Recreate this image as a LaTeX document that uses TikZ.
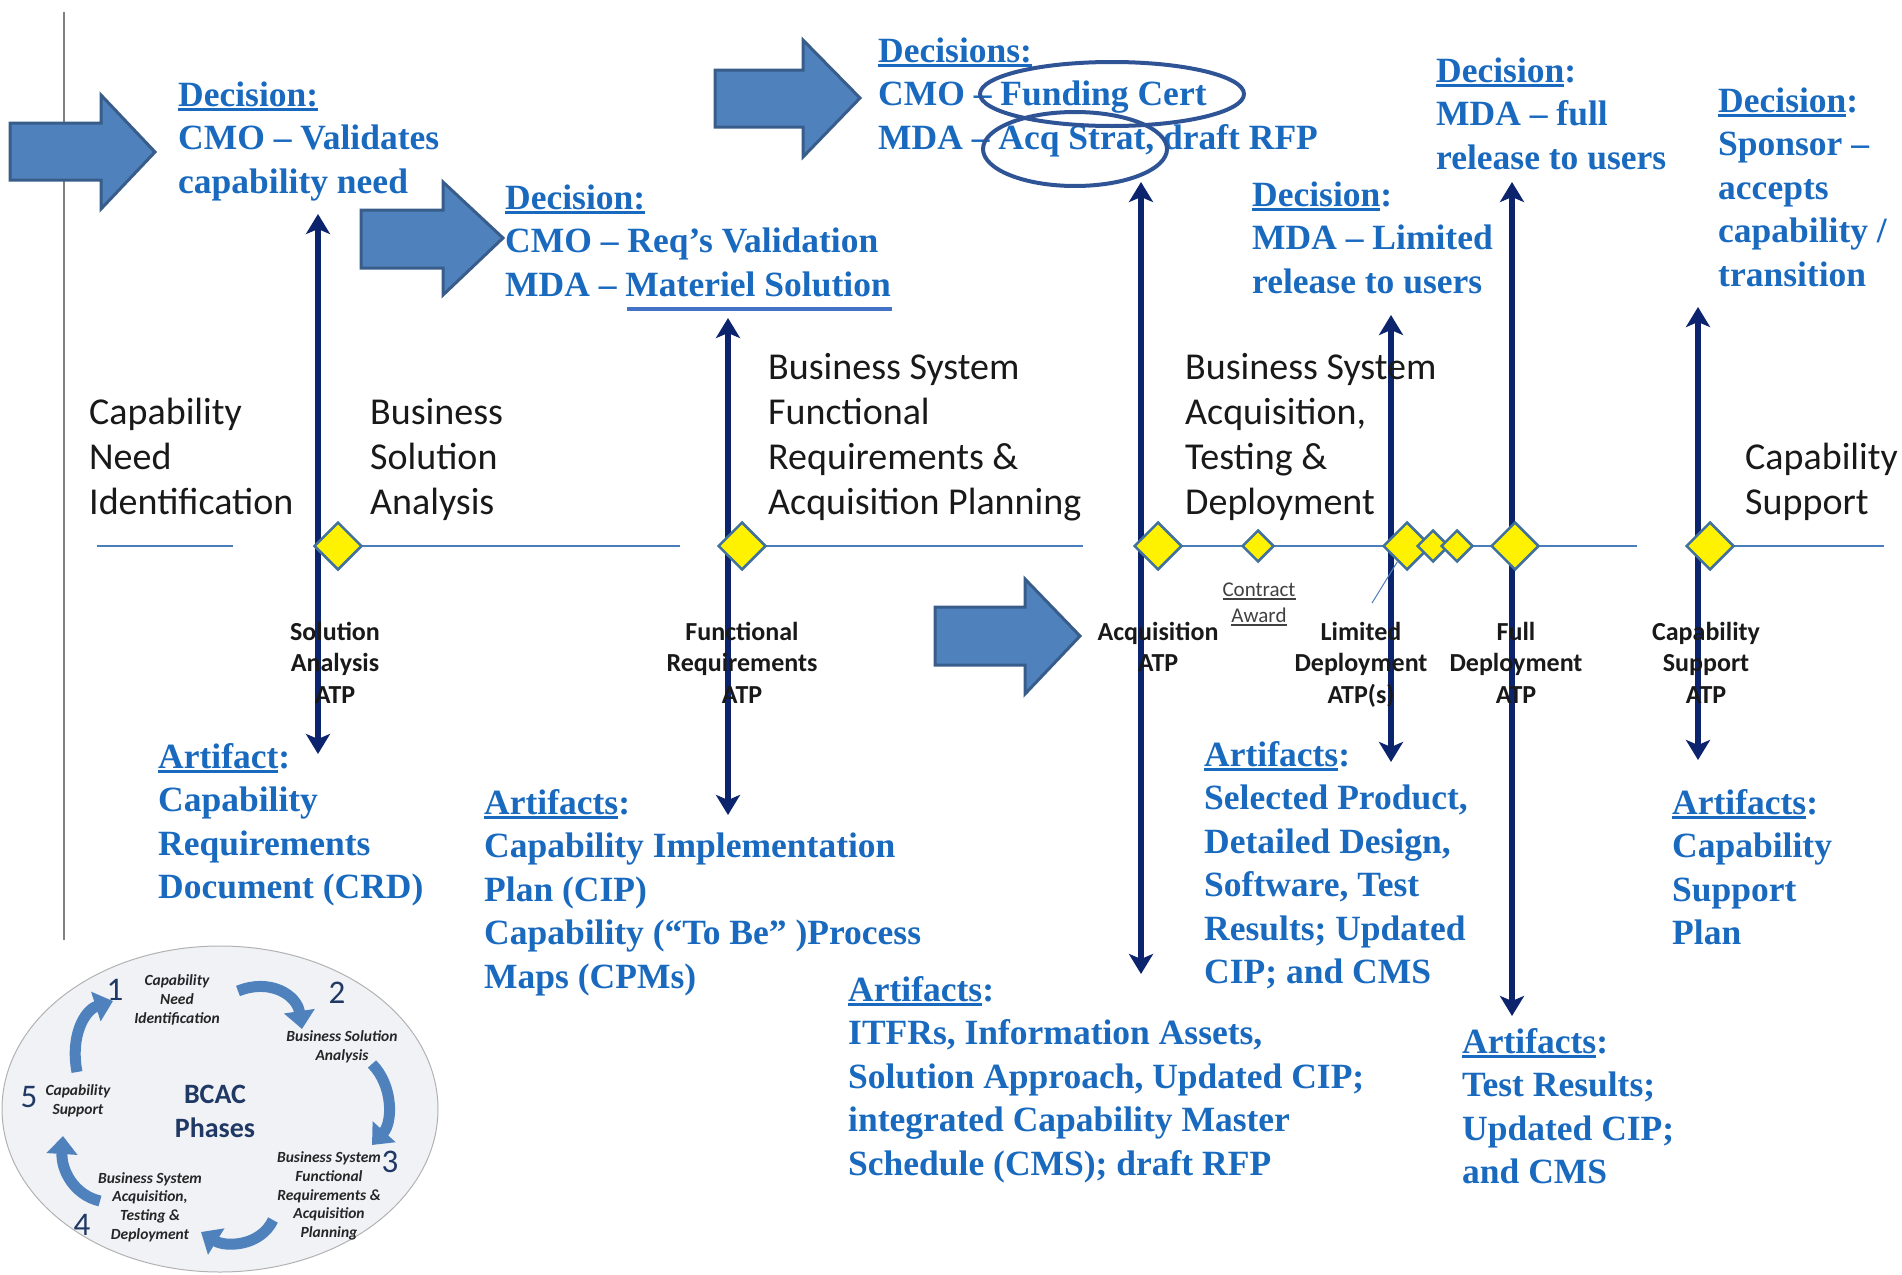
\documentclass[tikz,border=0pt]{standalone}
\usepackage{fontspec}
\setmainfont{Liberation Serif}
\newfontfamily\carl{Carlito}
\usetikzlibrary{arrows.meta,shapes.geometric}
\definecolor{txtblue}{RGB}{25,105,190}
\definecolor{navy}{RGB}{12,35,110}
\definecolor{arrfill}{RGB}{79,129,189}
\definecolor{arrdraw}{RGB}{56,93,138}
\definecolor{ellblue}{RGB}{47,84,150}
\definecolor{tline}{RGB}{74,126,187}
\definecolor{dmdraw}{RGB}{65,113,156}
\definecolor{insetbg}{RGB}{240,242,246}
\definecolor{insettxt}{RGB}{38,38,38}
\definecolor{insetnum}{RGB}{31,56,100}
\definecolor{ulblue}{RGB}{68,114,196}
\newsavebox\ulbox
\newcommand{\ulw}[1]{\sbox\ulbox{#1}\rlap{\rule[-4.5pt]{\wd\ulbox}{2.2pt}}\usebox\ulbox}
\newcommand{\ulthin}[1]{\sbox\ulbox{#1}\rlap{\rule[-3.5pt]{\wd\ulbox}{1.3pt}}\usebox\ulbox}
\tikzset{
  bluetxt/.style={text=txtblue, font=\bfseries\fontsize{35.5}{43.5}\selectfont, align=left, anchor=base west, inner sep=0pt},
  phase/.style={font=\carl\fontsize{38}{44.8}\selectfont, align=left, anchor=base west, inner sep=0pt, text=black!90},
  atp/.style={font=\carl\bfseries\fontsize{26}{31.5}\selectfont, align=center, anchor=base, inner sep=0pt, text=black!90},
  milestone/.style={diamond, draw=dmdraw, line width=2.5pt, fill=yellow, minimum width=48pt, minimum height=48pt, inner sep=0pt},
  smallms/.style={milestone, minimum width=32pt, minimum height=32pt},
  vline/.style={draw=navy, line width=6.5pt, {Stealth[length=20pt,width=24pt,inset=5pt]}-{Stealth[length=20pt,width=24pt,inset=5pt]}},
  blockarrow/.style={fill=arrfill, draw=arrdraw, line width=3pt, line join=miter},
  timeline/.style={draw=tline, line width=2pt},
  hilite/.style={draw=ellblue, line width=4pt},
  insettext/.style={font=\carl\bfseries\itshape\fontsize{15.5}{18.7}\selectfont, text=insettxt, align=center, inner sep=0pt},
  insetnumber/.style={font=\carl\fontsize{33}{36}\selectfont, text=insetnum, inner sep=0pt},
  curvarrow/.style={draw=arrfill, line width=11pt, -{Triangle[length=18pt,width=30pt]}},
}
\begin{document}
\begin{tikzpicture}[x=1pt,y=-1pt]
\useasboundingbox (0,0) rectangle (1902,1274);

% left gray rule
\draw[gray, line width=1.5pt] (64,12) -- (64,940);

% inset
\draw[fill=insetbg, draw=gray!60, line width=1pt] (220,1109) ellipse [x radius=218pt, y radius=163pt];
\coordinate (c5a) at (77,1072);   \coordinate (c5b) at (113,1001);
\coordinate (c1a) at (238,991);   \coordinate (c1b) at (302,1029);
\coordinate (c2a) at (372,1064);  \coordinate (c2b) at (372,1145);
\coordinate (c3a) at (273,1220);  \coordinate (c3b) at (201,1232);
\coordinate (c4a) at (100,1201);  \coordinate (c4b) at (63,1136);
\draw[curvarrow] (c5a) .. controls (70,1035) and (85,1010) .. (c5b);
\draw[curvarrow] (c1a) .. controls (270,978) and (297,995) .. (c1b);
\draw[curvarrow] (c2a) .. controls (393,1085) and (393,1122) .. (c2b);
\draw[curvarrow] (c3a) .. controls (260,1247) and (225,1247) .. (c3b);
\draw[curvarrow] (c4a) .. controls (74,1195) and (61,1170) .. (c4b);
\node[insettext] (i1) at (177,1000) {Capability\\Need\\Identification};
\node[insettext] (i2) at (342,1047) {Business Solution\\Analysis};
\node[insettext] (i3) at (329,1196) {Business System\\Functional\\Requirements \&\\Acquisition\\Planning};
\node[insettext] (i4) at (150,1207) {Business System\\Acquisition,\\Testing \&\\Deployment};
\node[insettext] (i5) at (78,1101) {Capability\\Support};
\node[font=\carl\bfseries\fontsize{28}{34}\selectfont, text=insetnum, align=center, inner sep=0pt] (bcac) at (215,1111) {BCAC\\Phases};
\node[insetnumber] (n1) at (115,990) {1};
\node[insetnumber] (n2) at (337,993) {2};
\node[insetnumber] (n3) at (390,1162) {3};
\node[insetnumber] (n4) at (82,1225) {4};
\node[insetnumber] (n5) at (29,1097) {5};

% block arrows
\draw[blockarrow] (10,123) -- (101,123) -- (101,95) -- (155,152) -- (101,209) -- (101,180) -- (10,180) -- cycle;
\draw[blockarrow] (361,210) -- (443,210) -- (443,182) -- (503,238) -- (443,295) -- (443,268) -- (361,268) -- cycle;
\draw[blockarrow] (715,70) -- (803,70) -- (803,40) -- (860,98) -- (803,157) -- (803,127) -- (715,127) -- cycle;
\draw[blockarrow] (935,607) -- (1025,607) -- (1025,579) -- (1080,636) -- (1025,694) -- (1025,665) -- (935,665) -- cycle;

% timeline
\coordinate (t0) at (97,546);
\coordinate (t1) at (233,546);
\coordinate (t2) at (680,546);
\coordinate (t3) at (1083,546);
\coordinate (t4) at (1637,546);
\coordinate (t5) at (1884,546);
\coordinate (d1p) at (338,546);
\coordinate (d2p) at (742,546);
\coordinate (d3p) at (1158,546);
\coordinate (d9p) at (1710,546);
\draw[timeline] (t0) -- (t1);
\draw[timeline] (d1p) -- (t2);
\draw[timeline] (d2p) -- (t3);
\draw[timeline] (d3p) -- (t4);
\draw[timeline] (d9p) -- (t5);

% vertical decision arrows
\coordinate (a1t) at (318,214); \coordinate (a1b) at (318,754);
\coordinate (a2t) at (728,318); \coordinate (a2b) at (728,815);
\coordinate (a3t) at (1141,182); \coordinate (a3b) at (1141,974);
\coordinate (a4t) at (1391,315); \coordinate (a4b) at (1391,762);
\coordinate (a5t) at (1512,182); \coordinate (a5b) at (1512,1016);
\coordinate (a6t) at (1698,307); \coordinate (a6b) at (1698,760);
\draw[vline] (a1b) -- (a1t);
\draw[vline] (a2b) -- (a2t);
\draw[vline] (a3b) -- (a3t);
\draw[vline] (a4b) -- (a4t);
\draw[vline] (a5b) -- (a5t);
\draw[vline] (a6b) -- (a6t);

% milestones
\node[milestone] (d1) at (d1p) {};
\node[milestone] (d2) at (d2p) {};
\node[milestone] (d3) at (d3p) {};
\node[smallms] (d4) at (1258,546) {};
\node[milestone] (d5) at (1407,546) {};
\node[smallms] (d6) at (1433,546) {};
\node[smallms] (d7) at (1457,546) {};
\node[milestone] (d8) at (1515,546) {};
\node[milestone] (d9) at (d9p) {};

% phase labels (anchor = baseline of last line)
\node[phase] (p1) at (89,514) {Capability\\Need\\Identification};
\node[phase] (p2) at (370,514) {Business\\Solution\\Analysis};
\node[phase] (p3) at (768,514) {Business System\\Functional\\Requirements \&\\Acquisition Planning};
\node[phase] (p4) at (1185,514) {Business System\\Acquisition,\\Testing \&\\Deployment};
\node[phase] (p5) at (1745,514) {Capability\\Support};

% ATP labels
\node[atp] (atp1) at (335,703) {Solution\\Analysis\\ATP};
\node[atp] (atp2) at (742,703) {Functional\\Requirements\\ATP};
\node[atp] (atp3) at (1158,671.5) {Acquisition\\ATP};
\node[atp] (atp4) at (1361,703) {Limited\\Deployment\\ATP(s)};
\node[atp] (atp5) at (1516,703) {Full\\Deployment\\ATP};
\node[atp] (atp6) at (1706,703) {Capability\\Support\\ATP};
\node[font=\carl\fontsize{21}{26}\selectfont, text=black!75, align=center, anchor=base, inner sep=0pt] (ca) at (1259,622) {\ulthin{Contract}\\\ulthin{Award}};
\coordinate (leadA) at (1372,603);
\draw[draw=tline, line width=1pt] (leadA) -- (d5);

% decisions
\node[bluetxt] (dec1) at (178,193) {\ulw{Decision:}\\CMO – Validates\\capability need};
\node[bluetxt] (dec2) at (505,296) {\ulw{Decision:}\\CMO – Req’s Validation\\MDA – Materiel Solution};
\coordinate (ms1) at (627,309); \coordinate (ms2) at (892,309);
\draw[draw=ulblue, line width=4pt] (ms1) -- (ms2);
\node[bluetxt] (dec3) at (878,149) {\ulw{Decisions:}\\CMO – Funding Cert\\MDA – Acq Strat, draft RFP};
\node[bluetxt] (dec4) at (1252,293) {\ulw{Decision}:\\MDA – Limited\\release to users};
\node[bluetxt] (dec5) at (1436,169) {\ulw{Decision}:\\MDA – full\\release to users};
\node[bluetxt] (dec6) at (1718,286) {\ulw{Decision}:\\Sponsor –\\accepts\\capability /\\transition};

% artifacts
\node[bluetxt] (art1) at (158,898.5) {\ulw{Artifact}:\\Capability\\Requirements\\Document (CRD)};
\node[bluetxt] (art2) at (484,988) {\ulw{Artifacts}:\\Capability Implementation\\Plan (CIP)\\Capability (“To Be” )Process\\Maps (CPMs)};
\node[bluetxt] (art3) at (848,1175) {\ulw{Artifacts}:\\ITFRs, Information Assets,\\Solution Approach, Updated CIP;\\integrated Capability Master\\Schedule (CMS); draft RFP};
\node[bluetxt] (art4) at (1204,983.5) {\ulw{Artifacts}:\\Selected Product,\\Detailed Design,\\Software, Test\\Results; Updated\\CIP; and CMS};
\node[bluetxt] (art5) at (1462,1183.5) {\ulw{Artifacts}:\\Test Results;\\Updated CIP;\\and CMS};
\node[bluetxt] (art6) at (1672,944.5) {\ulw{Artifacts}:\\Capability\\Support\\Plan};

% highlight ellipses
\draw[hilite] (1112,94) ellipse [x radius=132pt, y radius=32pt];
\draw[hilite] (1075,149) ellipse [x radius=92pt, y radius=37pt];
\end{tikzpicture}
\end{document}
